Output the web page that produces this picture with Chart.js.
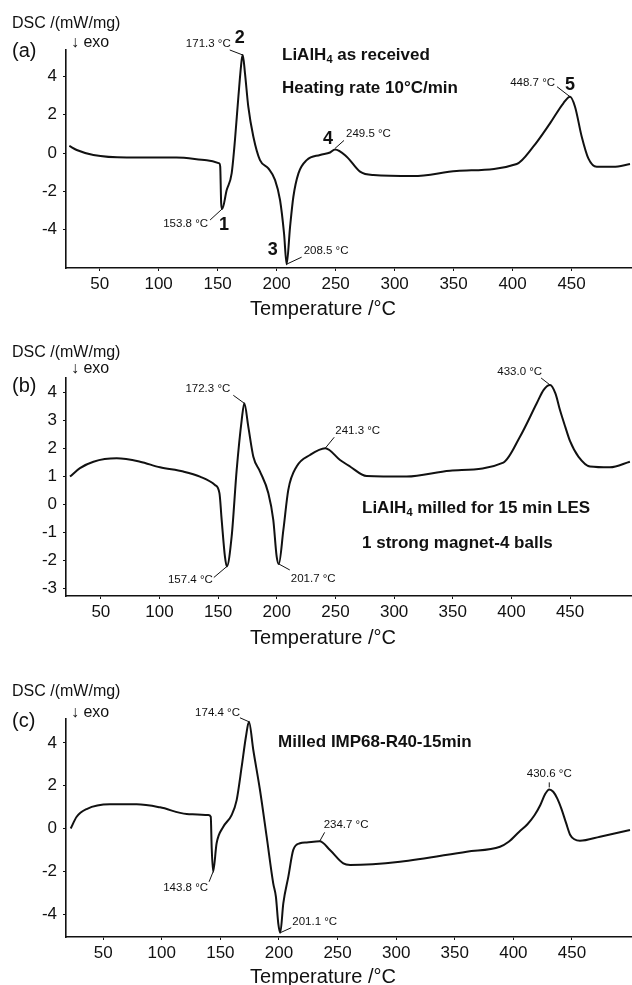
<!DOCTYPE html>
<html>
<head>
<meta charset="utf-8">
<script src="https://cdn.jsdelivr.net/npm/chart.js@4.4.0/dist/chart.umd.min.js"></script>
<style>
body { margin:0; background:#fff; width:632px; height:985px; overflow:hidden; position:relative; }
canvas { position:absolute; left:0; }
</style>
</head>
<body>
<canvas id="dscA" width="632" height="320" style="top:0px"></canvas>
<canvas id="dscB" width="632" height="330" style="top:320px"></canvas>
<canvas id="dscC" width="632" height="335" style="top:650px"></canvas>
<script>
// (a) LiAlH4 as received
var tempA = [24.3, 30.6, 44.7, 73, 115, 140.8, 151.5, 152.2, 153.0, 153.8, 157.7, 161.9, 164.7, 167.6, 170.4, 171.3, 173.2, 176, 180.3, 185.9, 193, 198.7, 202.9, 206.3, 208.5, 211.4, 214.2, 218.5, 225.5, 236.8, 245.3, 249.5, 259.4, 270.7, 282, 315.9, 352.6, 403.5, 417.5, 431.7, 443, 448.7, 452.9, 458.6, 464.2, 471.3, 485.4, 499.5];
var dscA = [0.37, 0.16, -0.10, -0.23, -0.23, -0.37, -0.54, -0.7, -2.6, -2.92, -1.93, -1.06, 0.68, 2.94, 4.86, 5.12, 4.16, 2.42, 0.85, -0.37, -0.80, -1.41, -2.45, -4.2, -5.8, -3.85, -2.28, -1.06, -0.37, -0.10, 0.03, 0.19, -0.19, -0.97, -1.15, -1.20, -0.94, -0.57, 0.33, 1.55, 2.6, 2.94, 2.42, 0.85, -0.28, -0.72, -0.72, -0.57];
var peaksA = [171.3, 153.8, 208.5, 249.5, 448.7];

// (b) milled 15 min LES
var tempB = [23.7, 32.2, 43.7, 63.5, 83.4, 100.4, 120.3, 134.5, 147.3, 151.1, 153, 155.8, 157.4, 161.5, 165.8, 170.1, 172.3, 175.7, 180, 185.7, 192.8, 197, 199.9, 201.7, 205.6, 209.8, 216.9, 228.3, 241.3, 253.9, 262.4, 276.6, 310.7, 347.7, 393.1, 407.3, 421.6, 427.5, 433.0, 437.5, 441.4, 446, 450, 457.1, 467, 484, 501];
var dscB = [0.99, 1.29, 1.52, 1.64, 1.52, 1.32, 1.17, 0.99, 0.69, 0.40, -0.55, -1.86, -2.21, -1.15, 1.23, 3.01, 3.6, 2.77, 1.70, 1.17, 0.40, -0.55, -1.86, -2.12, -0.91, 0.52, 1.35, 1.76, 2.0, 1.58, 1.35, 1.01, 0.99, 1.20, 1.49, 2.41, 3.60, 4.08, 4.25, 3.95, 3.36, 2.75, 2.25, 1.70, 1.35, 1.32, 1.52];
var peaksB = [172.3, 157.4, 201.7, 241.3, 433.0];

// (c) milled IMP68-R40-15min
var tempC = [22.3, 27.4, 35.9, 55.8, 78.6, 98.5, 121.3, 139.7, 141.8, 142.6, 143.8, 146.8, 152.5, 159.6, 163.9, 168.2, 171.8, 174.4, 178.1, 183.8, 189.5, 195.1, 197.4, 199.4, 201.1, 203.7, 208, 212.2, 217.9, 223.6, 234.7, 243.5, 254.9, 260.7, 303.3, 360.2, 388.6, 396, 405, 412, 418, 423, 427, 430.6, 434, 437.5, 441, 445, 448.5, 452, 456.8, 473.9, 499.5];
var dscC = [0.0, 0.55, 0.91, 1.13, 1.13, 0.99, 0.68, 0.63, 0.55, -0.9, -2.02, -0.69, 0.08, 0.63, 1.33, 2.89, 4.29, 4.99, 3.67, 1.80, -0.38, -2.56, -3.19, -4.43, -4.87, -3.5, -2.25, -1.0, -0.69, -0.65, -0.6, -1.0, -1.63, -1.70, -1.55, -1.08, -0.85, -0.62, -0.15, 0.2, 0.62, 1.1, 1.6, 1.83, 1.72, 1.4, 0.92, 0.25, -0.3, -0.5, -0.57, -0.38, -0.07];
var peaksC = [174.4, 143.8, 201.1, 234.7, 430.6];

var xTicks = [50, 100, 150, 200, 250, 300, 350, 400, 450];
var yTicksA = [-4, -2, 0, 2, 4];
var yTicksB = [-3, -2, -1, 0, 1, 2, 3, 4];
var yTicksC = [-4, -2, 0, 2, 4];

var FONT = '"Liberation Sans", Arial, sans-serif';
var INK = '#111';

function font(size, bold) {
    return (bold ? 'bold ' : '') + size + 'px ' + FONT;
}

// text with a subscript part, e.g. LiAlH4
function drawRich(ctx, parts, x, y, size) {
    ctx.textAlign = 'left';
    parts.forEach(function(p){
        if (p.sub) {
            ctx.font = font(Math.round(size * 0.65), true);
            ctx.fillText(p.s, x, y + 3);
        } else {
            ctx.font = font(size, true);
            ctx.fillText(p.s, x, y);
        }
        x += ctx.measureText(p.s).width;
    });
}

function makePanel(id, temps, dsc, peaks, opt) {
    var canvas = document.getElementById(id);
    var H = canvas.height;
    var pts = temps.map(function(t, i){ return {x: t, y: dsc[i]}; });

    var textPlugin = {
        id: 'panelText',
        afterDraw: function(chart) {
            var ctx = chart.ctx, xs = chart.scales.x, ys = chart.scales.y;
            ctx.save();
            ctx.fillStyle = INK;
            ctx.strokeStyle = INK;
            ctx.textBaseline = 'alphabetic';

            // header on the left
            ctx.textAlign = 'left';
            ctx.font = font(16);
            ctx.fillText('DSC /(mW/mg)', 12, opt.head[0]);
            ctx.fillText('\u2193 exo', 71, opt.head[1]);
            ctx.font = font(20);
            ctx.fillText(opt.tag, 12, opt.head[2]);

            // x axis title
            ctx.textAlign = 'center';
            ctx.font = font(20);
            ctx.fillText('Temperature /\u00b0C', 323, opt.titleY);

            // sample notes
            opt.notes.forEach(function(n){
                drawRich(ctx, n.parts, n.x, n.y, 17);
            });

            // peak markers with leader lines
            peaks.forEach(function(t, k){
                var m = opt.marks[k];
                var v = dsc[temps.indexOf(t)];
                var px = xs.getPixelForValue(t), py = ys.getPixelForValue(v);
                ctx.lineWidth = 1;
                ctx.beginPath();
                ctx.moveTo(px + (m.l0 ? m.l0[0] : 0), py + (m.l0 ? m.l0[1] : 0));
                ctx.lineTo(px + m.l[0], py + m.l[1]);
                ctx.stroke();
                ctx.font = font(11.5);
                ctx.textAlign = m.a;
                ctx.fillText(t.toFixed(1) + ' \u00b0C', px + m.t[0], py + m.t[1]);
                if (m.n) {
                    ctx.font = font(18, true);
                    ctx.textAlign = 'center';
                    ctx.fillText(m.n, px + m.nx[0], py + m.nx[1]);
                }
            });
            ctx.restore();
        }
    };

    return new Chart(canvas, {
        type: 'line',
        data: {
            datasets: [{
                data: pts,
                borderColor: INK,
                borderWidth: 2,
                pointRadius: 0,
                cubicInterpolationMode: 'monotone',
                fill: false
            }]
        },
        options: {
            responsive: false,
            animation: false,
            devicePixelRatio: 1,
            layout: { padding: { top: opt.top, left: 0, right: 0, bottom: 0 } },
            plugins: { legend: { display: false }, tooltip: { enabled: false } },
            scales: {
                x: {
                    type: 'linear',
                    min: opt.xr[0], max: opt.xr[1],
                    afterBuildTicks: function(s){ s.ticks = xTicks.map(function(v){ return {value: v}; }); },
                    afterFit: function(s){ s.height = H - opt.bottom; },
                    grid: { display: true, drawOnChartArea: false, tickLength: 3, color: INK, lineWidth: 1 },
                    border: { color: INK, width: 1.6 },
                    ticks: { color: INK, font: { family: FONT, size: 17 }, padding: 3, maxRotation: 0, autoSkip: false }
                },
                y: {
                    type: 'linear',
                    min: opt.yr[0], max: opt.yr[1],
                    afterBuildTicks: function(s){ s.ticks = opt.yTicks.map(function(v){ return {value: v}; }); },
                    afterFit: function(s){ s.width = 66; },
                    grid: { display: true, drawOnChartArea: false, tickLength: 3, color: INK, lineWidth: 1 },
                    border: { color: INK, width: 1.6 },
                    ticks: { color: INK, font: { family: FONT, size: 17 }, padding: 6, autoSkip: false }
                }
            }
        },
        plugins: [textPlugin]
    });
}

makePanel('dscA', tempA, dscA, peaksA, {
    top: 50, bottom: 268, xr: [21.5, 501.2], yr: [-6.0, 5.38], yTicks: yTicksA,
    head: [28, 47, 57], tag: '(a)', titleY: 315,
    notes: [
        { x: 282, y: 60, parts: [{s: 'LiAlH'}, {s: '4', sub: true}, {s: ' as received'}] },
        { x: 282, y: 93, parts: [{s: 'Heating rate 10\u00b0C/min'}] }
    ],
    marks: [
        { l: [-13, -5], t: [-12, -8], a: 'right', n: '2', nx: [-3, -12] },
        { l: [-12, 11], t: [-14, 18], a: 'right', n: '1', nx: [2, 21] },
        { l: [15, -7], t: [17, -10], a: 'left', n: '3', nx: [-14, -9] },
        { l0: [0, -1], l: [9, -9], t: [11, -12], a: 'left', n: '4', nx: [-7, -5] },
        { l: [-13, -10], t: [-15, -11], a: 'right', n: '5', nx: [0, -7] }
    ]
});

makePanel('dscB', tempB, dscB, peaksB, {
    top: 58, bottom: 276, xr: [20.3, 502.8], yr: [-3.26, 4.5], yTicks: yTicksB,
    head: [37, 53, 72], tag: '(b)', titleY: 324,
    notes: [
        { x: 362, y: 193, parts: [{s: 'LiAlH'}, {s: '4', sub: true}, {s: ' milled for 15 min LES'}] },
        { x: 362, y: 228, parts: [{s: '1 strong magnet-4 balls'}] }
    ],
    marks: [
        { l: [-11, -8], t: [-14, -11], a: 'right' },
        { l: [-13, 11], t: [-14, 16], a: 'right' },
        { l: [11, 6], t: [12, 18], a: 'left' },
        { l: [9, -11], t: [10, -14], a: 'left' },
        { l: [-9, -7], t: [-8, -10], a: 'right' }
    ]
});

makePanel('dscC', tempC, dscC, peaksC, {
    top: 69, bottom: 287, xr: [18.3, 501.2], yr: [-5.07, 5.12], yTicks: yTicksC,
    head: [46, 67, 77], tag: '(c)', titleY: 333,
    notes: [
        { x: 278, y: 97, parts: [{s: 'Milled IMP68-R40-15min'}] }
    ],
    marks: [
        { l: [-9, -4], t: [-9, -6], a: 'right' },
        { l: [-4, 10], t: [-5, 19], a: 'right' },
        { l: [11, -5], t: [12, -8], a: 'left' },
        { l: [5, -9], t: [4, -13], a: 'left' },
        { l0: [0, -2], l: [0, -7], t: [0, -12], a: 'center' }
    ]
});
</script>
</body>
</html>
